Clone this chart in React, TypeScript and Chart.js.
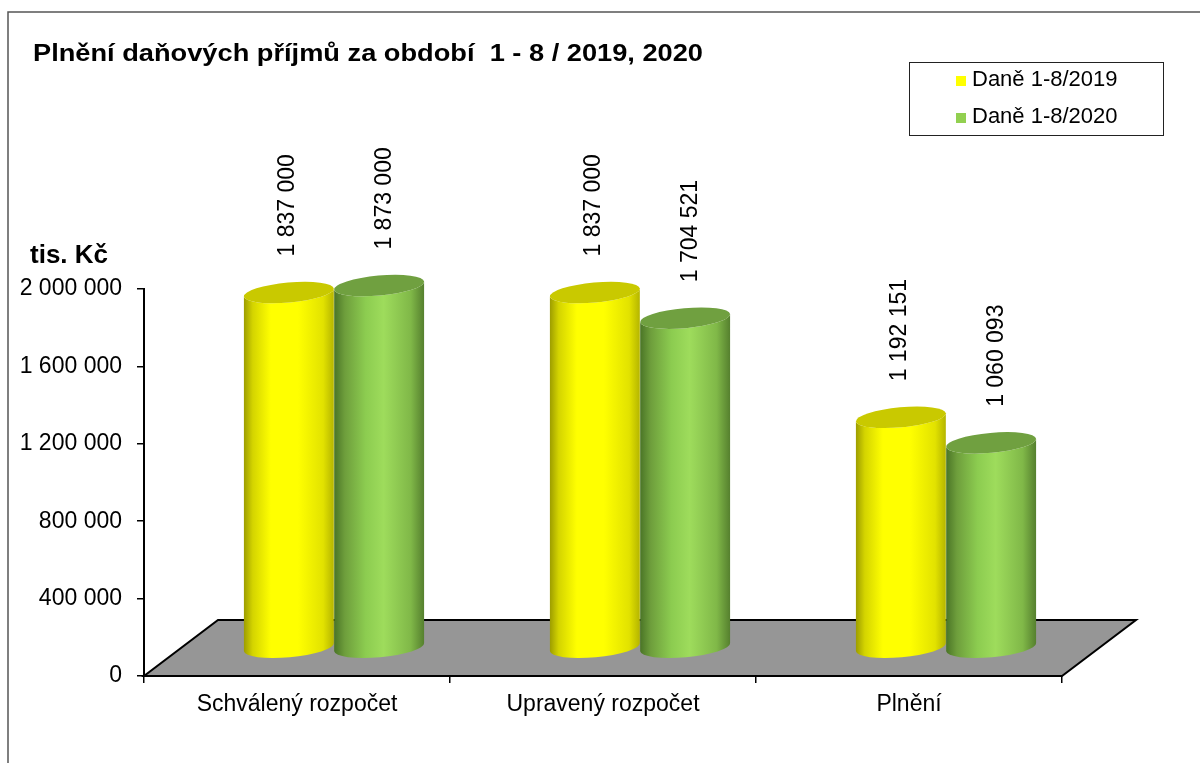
import React, { useEffect, useRef } from 'react';
import { Chart, registerables } from 'chart.js';

Chart.register(...registerables);

// ---------- data ----------
const categories = ['Schválený rozpočet', 'Upravený rozpočet', 'Plnění'];
const seriesNames = ['Daně 1-8/2019', 'Daně 1-8/2020'];
const values2019 = [1837000, 1837000, 1192151];
const values2020 = [1873000, 1704521, 1060093];
const yTickValues = [0, 400000, 800000, 1200000, 1600000, 2000000];
const titleText = 'Plnění daňových příjmů za období  1 - 8 / 2019, 2020';
const yAxisTitle = 'tis. Kč';

// ---------- style ----------
const FONT = 'Arial, "Liberation Sans", sans-serif';
const FLOOR_DX = 74;
const FLOOR_DY = -56;
const ELLIPSE_RY = 10;
const ELLIPSE_ROT = -0.09;
const LABEL_GAP = 36;

const seriesStyles = [
  {
    marker: '#ffff00',
    top: '#c9c900',
    stops: [
      [0, '#9c9c00'],
      [0.1, '#d4d400'],
      [0.3, '#ffff00'],
      [0.6, '#ffff00'],
      [0.88, '#e2e200'],
      [1, '#b4b400'],
    ],
    labelDx: -1,
  },
  {
    marker: '#92d050',
    top: '#70a040',
    stops: [
      [0, '#4a7426'],
      [0.12, '#6e9e3c'],
      [0.35, '#8ccc50'],
      [0.55, '#9edc5c'],
      [0.85, '#80b848'],
      [1, '#557f2e'],
    ],
    labelDx: 6,
  },
];

const fmt = (v: number) =>
  Math.round(v)
    .toString()
    .replace(/\B(?=(\d{3})+(?!\d))/g, ' ');

const cylinderPlugin = {
  id: 'cylinder3d',
  beforeDraw(chart: any) {
    const ctx = chart.ctx;
    ctx.save();
    ctx.fillStyle = '#ffffff';
    ctx.fillRect(0, 0, chart.width, chart.height);
    // outer frame
    ctx.strokeStyle = '#555555';
    ctx.lineWidth = 1.5;
    ctx.strokeRect(8, 12, chart.width + 20, chart.height + 20);

    // title
    ctx.fillStyle = '#000';
    ctx.textAlign = 'left';
    ctx.textBaseline = 'alphabetic';
    ctx.font = `bold 24px ${FONT}`;
    const tw = ctx.measureText(titleText).width;
    ctx.save();
    ctx.translate(33, 61);
    ctx.scale(670 / tw, 1);
    ctx.fillText(titleText, 0, 0);
    ctx.restore();

    // y axis title
    ctx.font = `bold 26px ${FONT}`;
    ctx.fillText(yAxisTitle, 30, 263);

    // legend
    ctx.fillStyle = '#fff';
    ctx.fillRect(909, 62, 254, 73);
    ctx.strokeStyle = '#222';
    ctx.lineWidth = 1;
    ctx.strokeRect(909.5, 62.5, 254, 73);
    ctx.font = `22px ${FONT}`;
    const rows = [86, 123];
    seriesNames.forEach((name, i) => {
      ctx.fillStyle = seriesStyles[i].marker;
      ctx.fillRect(956, rows[i] - 10, 10, 10);
      ctx.fillStyle = '#000';
      ctx.fillText(name, 972, rows[i]);
    });
    ctx.restore();
  },
  beforeDatasetsDraw(chart: any) {
    const { ctx, chartArea } = chart;
    const { left, right, bottom } = chartArea;
    ctx.save();
    ctx.beginPath();
    ctx.moveTo(left, bottom);
    ctx.lineTo(right, bottom);
    ctx.lineTo(right + FLOOR_DX, bottom + FLOOR_DY);
    ctx.lineTo(left + FLOOR_DX, bottom + FLOOR_DY);
    ctx.closePath();
    ctx.fillStyle = '#969696';
    ctx.fill();
    ctx.strokeStyle = '#000';
    ctx.lineWidth = 2;
    ctx.lineJoin = 'miter';
    ctx.stroke();
    ctx.restore();
  },
  beforeDatasetDraw() {
    return false;
  },
  afterDatasetsDraw(chart: any) {
    const ctx = chart.ctx;
    const dx = FLOOR_DX / 2;
    const dy = FLOOR_DY / 2;
    const metas = chart.data.datasets.map((_: any, i: number) => chart.getDatasetMeta(i));
    const labels: any[] = [];
    for (let c = 0; c < categories.length; c++) {
      metas.forEach((meta: any, d: number) => {
        const el = meta.data[c];
        if (!el) return;
        const { x, y, base, width } = el.getProps(['x', 'y', 'base', 'width'], true);
        const cx = x + dx;
        const topY = y + dy;
        const botY = base + dy;
        const rx = width / 2;
        const st = seriesStyles[d];
        ctx.save();
        const g = ctx.createLinearGradient(cx - rx, 0, cx + rx, 0);
        st.stops.forEach(([o, col]: any) => g.addColorStop(o, col));
        ctx.beginPath();
        ctx.ellipse(cx, botY, rx, ELLIPSE_RY, ELLIPSE_ROT, Math.PI, 0, true);
        ctx.ellipse(cx, topY, rx, ELLIPSE_RY, ELLIPSE_ROT, 0, Math.PI, false);
        ctx.closePath();
        ctx.fillStyle = g;
        ctx.fill();
        ctx.beginPath();
        ctx.ellipse(cx, topY, rx, ELLIPSE_RY, ELLIPSE_ROT, 0, Math.PI * 2);
        ctx.fillStyle = st.top;
        ctx.fill();
        ctx.restore();
        const v = chart.data.datasets[d].data[c];
        labels.push({ x: cx + st.labelDx, y: topY - LABEL_GAP, text: fmt(v) });
      });
    }
    ctx.save();
    ctx.fillStyle = '#000';
    ctx.font = `23px ${FONT}`;
    ctx.textAlign = 'left';
    ctx.textBaseline = 'middle';
    labels.forEach((l) => {
      ctx.save();
      ctx.translate(l.x, l.y);
      ctx.rotate(-Math.PI / 2);
      ctx.fillText(l.text, 0, 0);
      ctx.restore();
    });
    ctx.restore();
  },
};

export default function App() {
  const ref = useRef<HTMLCanvasElement | null>(null);
  useEffect(() => {
    if (!ref.current) return;
    Chart.defaults.font.family = FONT;
    const chart = new Chart(ref.current, {
      type: 'bar',
      data: {
        labels: categories,
        datasets: [
          { label: seriesNames[0], data: values2019, backgroundColor: seriesStyles[0].marker },
          { label: seriesNames[1], data: values2020, backgroundColor: seriesStyles[1].marker },
        ],
      },
      options: {
        responsive: false,
        devicePixelRatio: 1,
        animation: false,
        layout: { padding: { left: 0, right: 138, top: 289, bottom: 0 } },
        datasets: { bar: { categoryPercentage: 0.59, barPercentage: 1 } },
        plugins: {
          legend: { display: false },
          title: { display: false },
          tooltip: { enabled: false },
        },
        scales: {
          x: {
            ticks: { color: '#000', font: { size: 23 }, padding: 8, maxRotation: 0, autoSkip: false },
            grid: { offset: true, drawOnChartArea: false, drawTicks: true, tickLength: 7, color: '#000', lineWidth: 1.5 },
            border: { display: true, color: '#000', width: 2 },
            afterFit: (s: any) => {
              s.height = 87;
            },
          },
          y: {
            min: 0,
            max: 2000000,
            afterBuildTicks: (s: any) => {
              s.ticks = yTickValues.map((v) => ({ value: v }));
            },
            ticks: { color: '#000', font: { size: 23 }, padding: 15, callback: (v: any) => fmt(Number(v)) },
            grid: { drawOnChartArea: false, drawTicks: true, tickLength: 7, color: '#000', lineWidth: 1.5 },
            border: { display: true, color: '#000', width: 2 },
            afterFit: (s: any) => {
              s.width = 144;
            },
          },
        },
      },
      plugins: [cylinderPlugin],
    } as any);
    return () => chart.destroy();
  }, []);
  return (
    <canvas
      ref={ref}
      width={1200}
      height={763}
      style={{ position: 'fixed', left: 0, top: 0, width: 1200, height: 763 }}
    />
  );
}
